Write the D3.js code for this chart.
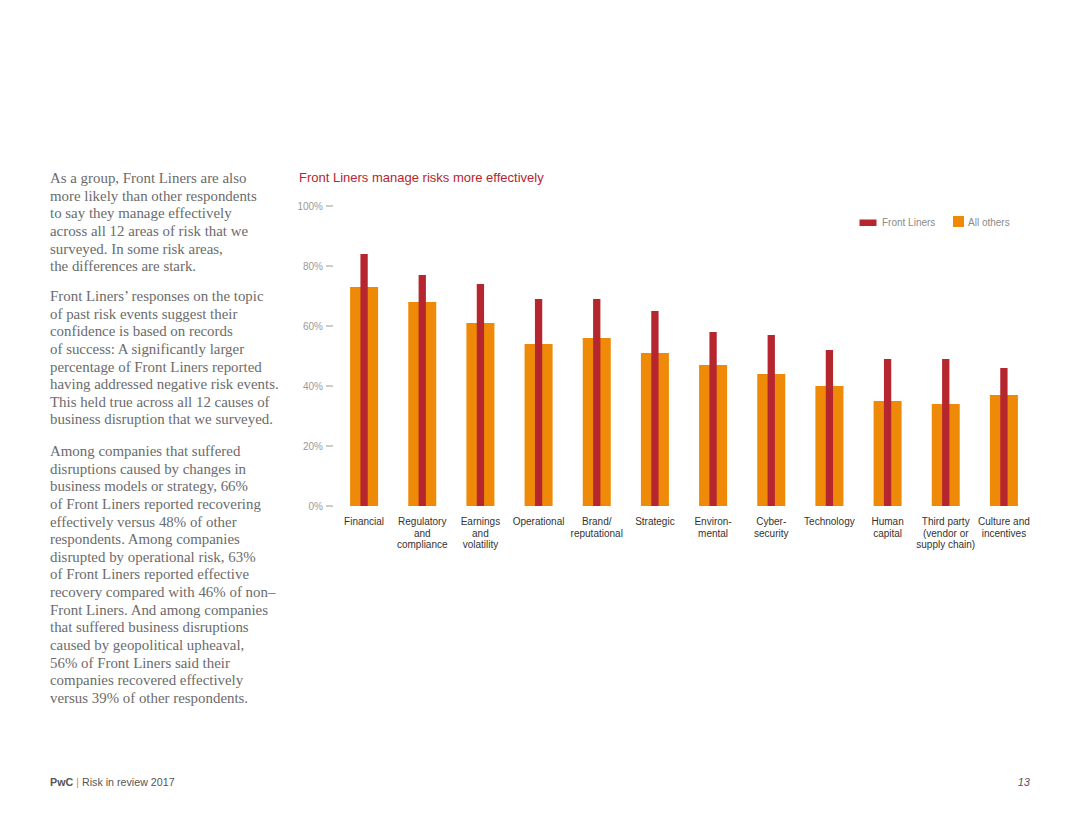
<!DOCTYPE html>
<html>
<head>
<meta charset="utf-8">
<script src="https://cdn.jsdelivr.net/npm/d3@7/dist/d3.min.js"></script>
<style>
  body { margin: 0; background: #fff; }
  svg { display: block; }
</style>
</head>
<body>
<svg></svg>
<script>
const width = 1080;
const height = 835;

// chart data
const categories = [
    ['Financial'],
    ['Regulatory', 'and', 'compliance'],
    ['Earnings', 'and', 'volatility'],
    ['Operational'],
    ['Brand/', 'reputational'],
    ['Strategic'],
    ['Environ-', 'mental'],
    ['Cyber-', 'security'],
    ['Technology'],
    ['Human', 'capital'],
    ['Third party', '(vendor or', 'supply chain)'],
    ['Culture and', 'incentives']
];
const frontLiners = [84, 77, 74, 69, 69, 65, 58, 57, 52, 49, 49, 46];
const allOthers = [73, 68, 61, 54, 56, 51, 47, 44, 40, 35, 34, 37];
const yTicks = [0, 20, 40, 60, 80, 100];

const paragraphs = [
    ['As a group, Front Liners are also',
     'more likely than other respondents',
     'to say they manage effectively',
     'across all 12 areas of risk that we',
     'surveyed. In some risk areas,',
     'the differences are stark.'],
    ['Front Liners\u2019 responses on the topic',
     'of past risk events suggest their',
     'confidence is based on records',
     'of success: A significantly larger',
     'percentage of Front Liners reported',
     'having addressed negative risk events.',
     'This held true across all 12 causes of',
     'business disruption that we surveyed.'],
    ['Among companies that suffered',
     'disruptions caused by changes in',
     'business models or strategy, 66%',
     'of Front Liners reported recovering',
     'effectively versus 48% of other',
     'respondents. Among companies',
     'disrupted by operational risk, 63%',
     'of Front Liners reported effective',
     'recovery compared with 46% of non\u2013',
     'Front Liners. And among companies',
     'that suffered business disruptions',
     'caused by geopolitical upheaval,',
     '56% of Front Liners said their',
     'companies recovered effectively',
     'versus 39% of other respondents.']
];
const paragraphStarts = [183, 301, 456];

const red = '#b5262f';
const orange = '#ef8a08';
const sans = 'Liberation Sans, Arial, Helvetica, sans-serif';

const svg = d3.select('svg')
    .attr('width', width)
    .attr('height', height);

// left column text
paragraphs.forEach((lines, p) => {
    svg.append('text')
        .attr('x', 50)
        .attr('y', paragraphStarts[p])
        .attr('font-family', 'Liberation Serif, Georgia, serif')
        .attr('font-size', '14.9px')
        .attr('fill', '#6b6b6b')
        .selectAll('tspan')
        .data(lines)
        .join('tspan')
        .attr('x', 50)
        .attr('dy', (d, i) => i === 0 ? 0 : 17.64)
        .text(d => d);
});

// title
svg.append('text')
    .attr('x', 299)
    .attr('y', 182)
    .attr('font-family', sans)
    .attr('font-size', '13px')
    .attr('fill', red)
    .text('Front Liners manage risks more effectively');

const x = d3.scaleBand()
    .domain(d3.range(categories.length))
    .range([335, 1033]);

const y = d3.scaleLinear()
    .domain([0, 100])
    .range([506, 206]);

// y axis
const yAxis = svg.append('g');
yAxis.selectAll('line')
    .data(yTicks)
    .join('line')
    .attr('x1', 326)
    .attr('x2', 333)
    .attr('y1', d => y(d))
    .attr('y2', d => y(d))
    .attr('stroke', '#9a9a9a')
    .attr('stroke-width', 1);
yAxis.selectAll('text')
    .data(yTicks)
    .join('text')
    .attr('x', 323)
    .attr('y', d => y(d) + 3.5)
    .attr('text-anchor', 'end')
    .attr('font-family', sans)
    .attr('font-size', '10px')
    .attr('fill', '#9a9a9a')
    .text(d => d + '%');

// bars
const orangeW = 28;
const redW = 7.3;
svg.append('g').selectAll('rect')
    .data(allOthers)
    .join('rect')
    .attr('x', (d, i) => x(i) + (x.bandwidth() - orangeW) / 2)
    .attr('y', d => y(d))
    .attr('width', orangeW)
    .attr('height', d => y(0) - y(d))
    .attr('fill', orange);

svg.append('g').selectAll('rect')
    .data(frontLiners)
    .join('rect')
    .attr('x', (d, i) => x(i) + (x.bandwidth() - redW) / 2)
    .attr('y', d => y(d))
    .attr('width', redW)
    .attr('height', d => y(0) - y(d))
    .attr('fill', red);

// category labels
svg.append('g').selectAll('text')
    .data(categories)
    .join('text')
    .attr('y', 525)
    .attr('text-anchor', 'middle')
    .attr('font-family', sans)
    .attr('font-size', '10px')
    .attr('fill', '#333')
    .each(function(lines, i) {
        d3.select(this).selectAll('tspan')
            .data(lines)
            .join('tspan')
            .attr('x', x(i) + x.bandwidth() / 2)
            .attr('dy', (d, j) => j === 0 ? 0 : 11.6)
            .text(d => d);
    });

// legend
svg.append('rect')
    .attr('x', 859.5).attr('y', 219.5)
    .attr('width', 17).attr('height', 6.5)
    .attr('fill', red);
svg.append('text')
    .attr('x', 882).attr('y', 226)
    .attr('font-family', sans).attr('font-size', '10px')
    .attr('fill', '#8a8a8a')
    .text('Front Liners');
svg.append('rect')
    .attr('x', 953).attr('y', 216)
    .attr('width', 11).attr('height', 11)
    .attr('fill', orange);
svg.append('text')
    .attr('x', 968).attr('y', 226)
    .attr('font-family', sans).attr('font-size', '10px')
    .attr('fill', '#8a8a8a')
    .text('All others');

// footer
const footer = svg.append('text')
    .attr('x', 50).attr('y', 786)
    .attr('font-family', sans).attr('font-size', '10.7px')
    .attr('fill', '#555');
footer.append('tspan').attr('font-weight', 'bold').text('PwC');
footer.append('tspan').attr('fill', orange).attr('dx', 3).text('|');
footer.append('tspan').attr('dx', 3).text('Risk in review 2017');

svg.append('text')
    .attr('x', 1030).attr('y', 786)
    .attr('text-anchor', 'end')
    .attr('font-family', sans).attr('font-size', '11px')
    .attr('font-style', 'italic')
    .attr('fill', '#555')
    .text('13');
</script>
</body>
</html>
